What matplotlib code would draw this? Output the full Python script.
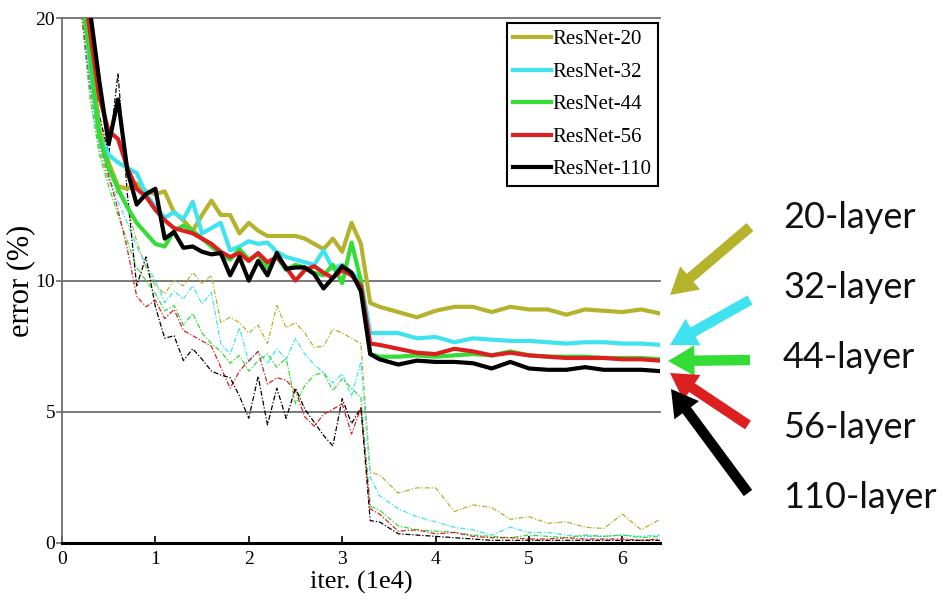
import matplotlib
matplotlib.use("Agg")
import matplotlib.pyplot as plt
from matplotlib.patches import FancyArrowPatch

# iterations (1e4)
iters = [0.2, 0.3, 0.4, 0.5, 0.6, 0.7, 0.8, 0.9, 1.0, 1.1, 1.2, 1.3, 1.4, 1.5, 1.6,
         1.7, 1.8, 1.9, 2.0, 2.1, 2.2, 2.3, 2.4, 2.5, 2.6, 2.7, 2.8, 2.9, 3.0, 3.1, 3.2,
         3.3, 3.4,
         3.6, 3.8, 4.0, 4.2, 4.4, 4.6, 4.8, 5.0, 5.2, 5.4, 5.6, 5.8, 6.0, 6.2, 6.4]

names = ["ResNet-20", "ResNet-32", "ResNet-44", "ResNet-56", "ResNet-110"]
arrow_labels = ["20-layer", "32-layer", "44-layer", "56-layer", "110-layer"]
colors = ["#b5b22c", "#3fe3f0", "#35dc35", "#dc2020", "#000000"]

# test error (thick)
test_20 = [22.0, 18.5, 15.8, 14.5, 13.6, 13.5, 13.7, 13.4, 13.3, 13.4, 12.6, 12.3, 11.9, 12.5, 13.05,
           12.5, 12.5, 11.8, 12.2, 11.9, 11.7, 11.7, 11.7, 11.7, 11.6, 11.4, 11.2, 11.6, 11.1, 12.2, 11.4,
           9.15, 9.0,
           8.8, 8.6, 8.85, 9.0, 9.0, 8.8, 9.0, 8.9, 8.9, 8.7, 8.9, 8.85, 8.8, 8.9, 8.75]
test_32 = [21.5, 18.2, 15.5, 14.8, 14.5, 14.3, 14.1, 13.3, 12.8, 12.4, 12.6, 12.35, 13.0, 11.8, 12.0,
           12.2, 11.15, 11.3, 11.5, 11.4, 11.45, 11.1, 10.9, 10.8, 10.7, 10.6, 11.15, 10.45, 10.6, 10.3, 10.0,
           8.0, 8.0,
           8.0, 7.8, 7.85, 7.65, 7.8, 7.75, 7.7, 7.7, 7.65, 7.6, 7.65, 7.65, 7.6, 7.6, 7.55]
test_44 = [21.0, 18.6, 15.5, 14.3, 13.5, 12.8, 12.2, 11.8, 11.4, 11.3, 11.9, 12.1, 11.9, 11.6, 11.3,
           11.0, 10.8, 11.2, 10.8, 11.0, 10.5, 10.9, 10.4, 10.6, 10.5, 10.3, 10.2, 10.6, 9.9, 11.45, 10.0,
           7.2, 7.1,
           7.1, 7.15, 7.1, 7.15, 7.2, 7.15, 7.3, 7.15, 7.1, 7.1, 7.1, 7.05, 7.05, 7.05, 7.0]
test_56 = [22.0, 19.5, 17.0, 15.7, 15.4, 14.3, 13.5, 13.2, 12.7, 12.3, 12.0, 11.9, 11.8, 11.6, 11.4,
           11.1, 10.9, 11.05, 10.75, 11.05, 10.7, 10.9, 10.5, 10.0, 10.4, 10.55, 10.3, 10.1, 10.4, 10.2, 9.8,
           7.6, 7.55,
           7.4, 7.25, 7.2, 7.4, 7.3, 7.15, 7.25, 7.15, 7.1, 7.05, 7.05, 7.05, 7.0, 7.0, 6.95]
test_110 = [24.0, 20.3, 17.6, 15.2, 16.9, 14.2, 12.9, 13.3, 13.5, 11.6, 11.85, 11.25, 11.3, 11.1, 11.0,
            11.05, 10.2, 10.9, 10.0, 10.75, 10.2, 11.05, 10.45, 10.5, 10.5, 10.25, 9.7, 10.1, 10.55, 10.3, 9.6,
            7.2, 7.0,
            6.8, 6.95, 6.9, 6.9, 6.85, 6.65, 6.9, 6.65, 6.6, 6.6, 6.7, 6.6, 6.6, 6.6, 6.55]

# training error (thin dash-dot)
train_20 = [20.5, 17.5, 15.0, 13.8, 13.3, 12.8, 11.5, 10.5, 9.8, 9.5, 10.0, 9.8, 10.3, 9.9, 10.2,
            8.4, 8.6, 8.4, 8.0, 8.3, 7.6, 9.05, 8.2, 8.4, 8.0, 7.45, 7.5, 8.15, 8.0, 7.8, 7.6,
            2.7, 2.6,
            1.9, 2.1, 2.1, 1.2, 1.45, 1.35, 0.9, 1.0, 0.75, 0.8, 0.6, 0.55, 1.1, 0.5, 0.9]
train_32 = [20.5, 17.0, 15.1, 14.0, 13.0, 12.2, 11.3, 10.6, 10.0, 9.15, 9.6, 9.3, 9.8, 9.1, 9.55,
            7.6, 7.2, 8.2, 6.9, 7.3, 6.85, 7.4, 7.0, 7.8, 7.2, 6.8, 6.5, 6.1, 6.45, 5.6, 6.9,
            2.5, 1.8,
            1.3, 1.0, 0.8, 0.6, 0.5, 0.3, 0.6, 0.4, 0.4, 0.3, 0.25, 0.25, 0.3, 0.25, 0.3]
train_44 = [20.5, 17.0, 14.8, 13.6, 12.5, 11.5, 10.5, 10.0, 9.5, 8.85, 9.05, 8.3, 8.75, 8.0, 7.6,
            7.3, 6.85, 7.15, 6.55, 6.95, 7.2, 6.7, 7.05, 5.3, 6.0, 6.4, 6.5, 5.8, 6.25, 5.9, 5.55,
            1.4, 1.25,
            0.65, 0.5, 0.45, 0.4, 0.3, 0.25, 0.2, 0.3, 0.25, 0.2, 0.3, 0.25, 0.3, 0.2, 0.25]
train_56 = [20.5, 17.5, 15.3, 14.0, 12.7, 11.2, 9.4, 9.0, 9.25, 8.55, 8.9, 8.1, 7.9, 7.7, 7.5,
            6.7, 5.9, 6.55, 6.95, 7.3, 6.05, 6.3, 6.2, 5.8, 4.8, 4.45, 4.9, 5.1, 5.3, 4.15, 5.15,
            1.3, 1.1,
            0.45, 0.5, 0.35, 0.4, 0.25, 0.2, 0.2, 0.15, 0.15, 0.2, 0.15, 0.15, 0.15, 0.1, 0.15]
train_110 = [21.0, 19.0, 16.3, 14.8, 17.9, 13.3, 9.8, 10.9, 9.0, 7.8, 7.9, 6.95, 7.4, 7.0, 6.55,
             6.4, 6.3, 5.6, 4.75, 6.35, 4.5, 5.9, 4.75, 5.9, 5.1, 4.6, 4.1, 3.7, 5.5, 4.55, 5.15,
             0.85, 0.8,
             0.35, 0.3, 0.25, 0.2, 0.15, 0.1, 0.1, 0.1, 0.1, 0.1, 0.1, 0.1, 0.1, 0.1, 0.1]

tests = [test_20, test_32, test_44, test_56, test_110]
trains = [train_20, train_32, train_44, train_56, train_110]

serif = "Liberation Serif"

fig = plt.figure(figsize=(9.43, 6.08), dpi=100)
ax = fig.add_axes([0.0657, 0.107, 0.634, 0.863])

for vals, c in zip(trains, colors):
    ax.plot(iters, vals, color=c, lw=0.9, ls=(0, (4, 1.5, 1, 1.5)), zorder=2)
for vals, c, n in zip(tests, colors, names):
    ax.plot(iters, vals, color=c, lw=3.0, label=n, zorder=3)

ax.set_xlim(0, 6.4)
ax.set_ylim(0, 20)
ax.set_yticks([0, 5, 10, 20])
ax.set_xticks([0, 1, 2, 3, 4, 5, 6])
for yv in [5, 10, 20]:
    ax.axhline(yv, color="#6e6e6e", lw=1.3, zorder=1, clip_on=False)

for s in ["top", "right"]:
    ax.spines[s].set_visible(False)
ax.spines["left"].set_color("#6e6e6e")
ax.spines["left"].set_linewidth(1.3)
ax.spines["bottom"].set_linewidth(2.2)
ax.tick_params(axis="x", direction="in", length=5, width=1.2, labelsize=14, pad=6)
ax.tick_params(axis="y", direction="out", length=4, width=1.2, color="#6e6e6e", labelsize=14, pad=1)
for lab in ax.get_xticklabels() + ax.get_yticklabels():
    lab.set_family(serif)

ax.set_xlabel("iter. (1e4)", family=serif, fontsize=19, labelpad=2)
ax.set_ylabel("error (%)", family=serif, fontsize=22, labelpad=0)

leg = ax.legend(loc="upper right", bbox_to_anchor=(0.997, 0.99), prop={"family": serif, "size": 15},
                fancybox=False, framealpha=1, edgecolor="black", handlelength=1.8,
                handletextpad=0.1, labelspacing=0.62, borderpad=0.3, borderaxespad=0)
leg.get_frame().set_linewidth(1.5)

# arrows pointing at the final error levels
tails = [(750, 227), (750, 300), (750, 360), (748, 425), (748, 493)]
tips = [(670, 295), (670, 345), (668, 361), (670, 373), (671, 389)]
text_y = [218, 287, 357, 427, 497]
W, H = 943, 608
for (tx, ty), (hx, hy), c, lab, yy in zip(tails, tips, colors, arrow_labels, text_y):
    fig.add_artist(FancyArrowPatch(
        (tx / W, 1 - ty / H), (hx / W, 1 - hy / H), transform=fig.transFigure,
        arrowstyle="simple,head_width=2.2,head_length=1.9,tail_width=0.75",
        mutation_scale=10, color=c, lw=0, shrinkA=0, shrinkB=0, capstyle="round"))
    fig.text(783 / W, 1 - yy / H, lab, fontsize=26, family="Lato", va="center", ha="left", color="#111111")

fig.savefig("out.png", dpi=100)
